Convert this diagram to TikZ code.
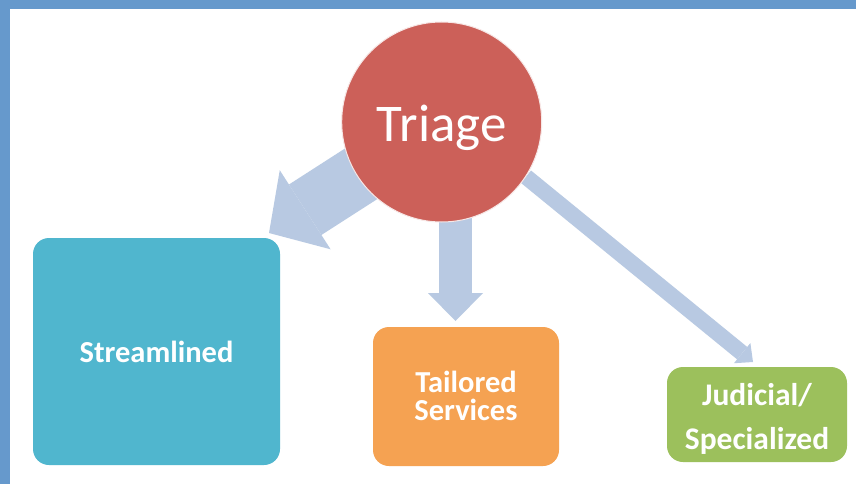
\documentclass[tikz,border=0pt]{standalone}
\usepackage{fontspec}
\setmainfont{Carlito}
\usetikzlibrary{arrows.meta}
\definecolor{frameblue}{RGB}{102,153,204}
\definecolor{arrowblue}{RGB}{184,201,226}
\definecolor{triagered}{RGB}{204,96,89}
\definecolor{boxcyan}{RGB}{80,182,206}
\definecolor{boxorange}{RGB}{245,162,82}
\definecolor{boxgreen}{RGB}{156,192,92}
\pgfdeclarelayer{bglayer}
\pgfdeclarelayer{arrowlayer}
\pgfsetlayers{bglayer,arrowlayer,main}
\begin{document}
\begin{tikzpicture}[x=1pt,y=-1pt,
  box/.style={rounded corners=16pt, text=white, align=center, inner sep=0pt,
    font=\bfseries\fontsize{30.5}{28}\selectfont},
  flow/.style={draw=arrowblue, line cap=butt},
  hub/.style={circle, fill=triagered, draw=white!85!triagered, line width=1pt,
    text=white, inner sep=0pt, minimum size=200pt,
    font=\fontsize{53}{60}\selectfont, text height=39pt, text depth=0pt}
]
\begin{pgfonlayer}{bglayer}
\path[use as bounding box, fill=white] (0,0) rectangle (856,484);
\fill[frameblue] (0,0) rectangle (856,9);
\fill[frameblue] (0,0) rectangle (10,484);
\end{pgfonlayer}

\node[hub] (tri) at (441.7,122) {Triage};

\node[box, fill=boxcyan, minimum width=247pt, minimum height=227pt,
  text height=22.4pt, text depth=0pt] (stream) at (156.5,351.5) {Streamlined};
\node[box, fill=boxorange, minimum width=186pt, minimum height=139pt,
  text height=48.4pt, text depth=0pt] (tail) at (466,396.5) {Tailored\\Services};
\node[box, fill=boxgreen, minimum width=180pt, minimum height=95pt,
  font=\bfseries\fontsize{31.5}{44}\selectfont,
  text height=69pt, text depth=0pt] (jud) at (757,414.5) {Judicial/\\Specialized};

\coordinate (t1) at (269,233);
\coordinate (t2) at (455.5,321);
\coordinate (t3) at (753,362);

\begin{pgfonlayer}{arrowlayer}
\draw[flow, line width=60pt, -{Triangle[length=43pt,width=94pt,line width=0pt]}]
  (tri.center) -- (t1);
\draw[flow, line width=33pt, -{Triangle[length=28pt,width=55pt,line width=0pt]}]
  (t2 |- tri.center) -- (t2);
\draw[flow, line width=16pt, -{Triangle[length=14pt,width=26pt,line width=0pt]}]
  (tri.-33) -- (t3);
\end{pgfonlayer}
\end{tikzpicture}
\end{document}
